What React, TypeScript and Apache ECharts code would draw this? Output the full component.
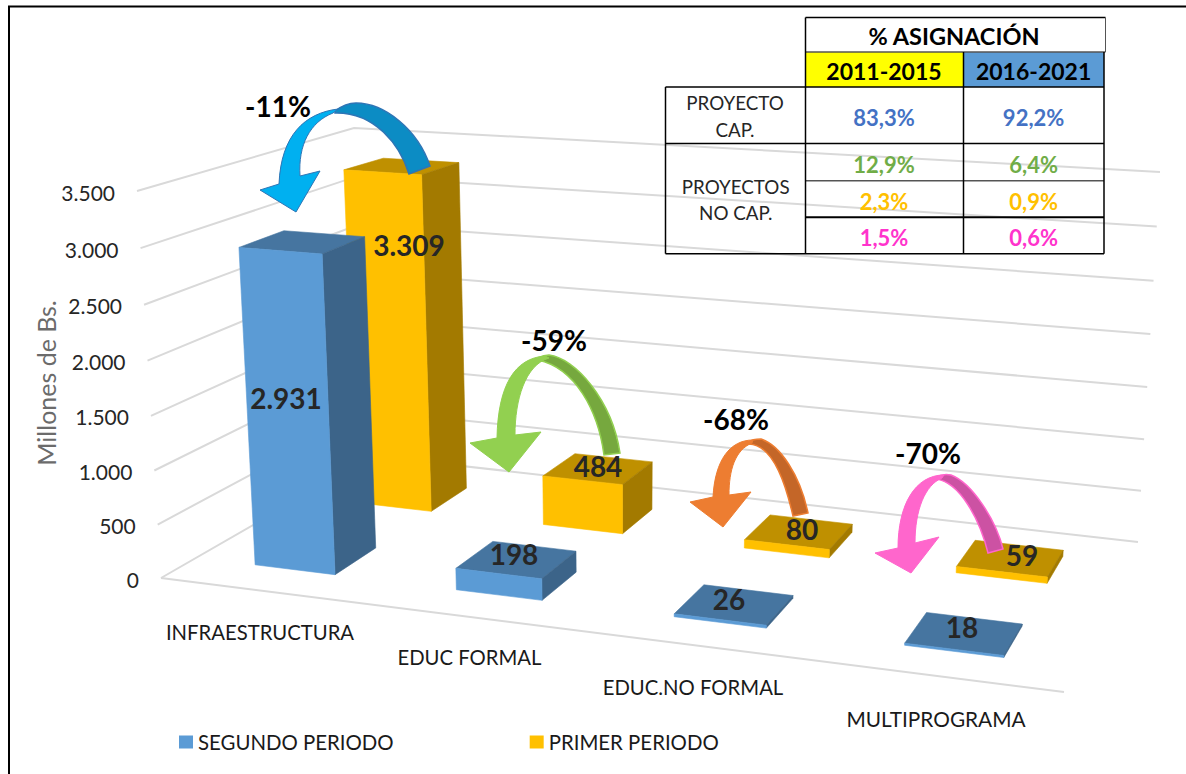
import React, { useEffect, useRef } from "react";
import * as echarts from "echarts";

// ---- data ----
const CATEGORIES = ["INFRAESTRUCTURA", "EDUC FORMAL", "EDUC.NO FORMAL", "MULTIPROGRAMA"];
const PRIMER_PERIODO = [3309, 484, 80, 59];
const SEGUNDO_PERIODO = [2931, 198, 26, 18];
const TICKS = [0, 500, 1000, 1500, 2000, 2500, 3000, 3500];
const CHANGES = ["-11%", "-59%", "-68%", "-70%"];
const TABLE_TITLE = "% ASIGNACIÓN";
const TABLE_PERIODS = ["2011-2015", "2016-2021"];
const TABLE_2011 = ["83,3%", "12,9%", "2,3%", "1,5%"];
const TABLE_2016 = ["92,2%", "6,4%", "0,9%", "0,6%"];

// ---- layout ----
const FONT = "Lato";
const GRID = { left: 100, top: 100, width: 1000, height: 400 };
const MAX = 3500;
const UP = { FL: [-24, -387], FR: [17, -429], BR: [22, -370], BL: [-19, -328] };
const H = { g: -0.07887, h: 0.18802, a: 819.1, b: 282.1, c: 161, d: 59.4, e: -36.3, f: 578 };
const BAR_NUDGE = [-0.005, -0.013, -0.011, -0.005];

function project(u: number, v: number, t: number, lean = 0): number[] {
  const w = H.g * u + H.h * v + 1;
  const x = (H.a * u + H.b * v + H.c) / w;
  const y = (H.d * u + H.e * v + H.f) / w;
  const warped = t / (1 + 0.04 * (1 - t));
  const lerp = (i: number) =>
    (1 - u) * (1 - v) * UP.FL[i] + u * (1 - v) * UP.FR[i] + u * v * UP.BR[i] + (1 - u) * v * UP.BL[i];
  return [x + warped * (lerp(0) + lean * v), y + warped * lerp(1)];
}

function heightOf(api: any, value: number): number {
  const y0 = api.coord([0, 0])[1];
  const yMax = api.coord([0, MAX])[1];
  return (y0 - api.coord([0, value])[1]) / (y0 - yMax);
}

function barRenderer(v0: number, v1: number, front: string, top: string, side: string) {
  return (_: any, api: any) => {
    const cat = api.value(0);
    const t = heightOf(api, api.value(1));
    const uc = (api.coord([cat, 0])[0] - GRID.left) / GRID.width + BAR_NUDGE[cat];
    const half = (api.size([1, 0])[0] / GRID.width) * (0.19 + 0.026 * uc);
    const u0 = uc - half;
    const u1 = uc + half;
    const L = 6;
    const poly = (pts: number[][], fill: string) => ({
      type: "polygon",
      shape: { points: pts },
      style: { fill, stroke: fill, lineWidth: 0.6 },
    });
    return {
      type: "group",
      children: [
        poly([project(u0, v0, t, L), project(u1, v0, t, L), project(u1, v1, t, L), project(u0, v1, t, L)], top),
        poly([project(u1, v0, 0), project(u1, v1, 0), project(u1, v1, t, L), project(u1, v0, t, L)], side),
        poly([project(u0, v0, 0), project(u1, v0, 0), project(u1, v0, t, L), project(u0, v0, t, L)], front),
      ],
    };
  };
}

function wallRenderer(_: any, api: any) {
  const value = api.value(1);
  const t = heightOf(api, value);
  const front = project(0, 0, t);
  const lineStyle = { fill: "none", stroke: "#D9D9D9", lineWidth: 2 };
  const children: any[] = [
    { type: "polyline", shape: { points: [front, project(0, 1, t), project(1, 1, t)] }, style: lineStyle },
    {
      type: "text",
      x: front[0] - 22,
      y: front[1] + 1,
      style: {
        text: String(value).replace(/\B(?=(\d{3})+$)/g, "."),
        fontFamily: FONT,
        fontSize: 21,
        fill: "#262626",
        align: "right",
        verticalAlign: "middle",
      },
    },
  ];
  if (value === 0) {
    children.push({
      type: "polyline",
      shape: { points: [front, project(1, 0, 0)] },
      style: lineStyle,
    });
  }
  return { type: "group", children };
}

// ---- curved arrows (annotation shapes) ----
const ARROW_PATHS: Record<string, string> = {
  a1Back: "M335 111 C343 105 350 103 356 103 C385 103 418 130 430 166 L409 174 C400 145 375 112 335 113 Z",
  a1Front: "M338 109 C305 113 281 135 279 184 L260 190 L296 212 L320 171 L300 176 C298 145 310 122 333 113 Z",
  a2Back: "M538 358 C542 356 545 355 549 355 C575 358 612 400 620 453 L604 455 C598 410 575 368 538 360 Z",
  a2Front: "M545 356 C515 358 498 385 497 438 L470 443 L509 472 L541 432 L515 435 C515 400 525 365 549 358 Z",
  a3Back: "M749 442 C752 439 757 439 761 439 C780 445 800 475 808 513 L793 516 C787 490 775 445 749 444 Z",
  a3Front: "M753 440 C730 440 715 460 713 497 L690 502 L723 527 L751 492 L729 495 C729 470 735 450 752 443 Z",
  a4Back: "M936 477 C940 475 946 474 951 475 C972 483 996 520 1003 549 L988 553 C980 520 960 482 936 479 Z",
  a4Front: "M944 475 C915 475 898 505 898 548 L875 553 L911 573 L939 537 L915 543 C915 510 925 485 942 478 Z",
};
Object.keys(ARROW_PATHS).forEach((k) => {
  echarts.graphic.registerShape(k, echarts.graphic.extendPath(ARROW_PATHS[k], {}));
});

const ARROW_STYLES = [
  { id: "a1", front: "#00B0F0", back: "#0C8CC4", stroke: "#2E75B6" },
  { id: "a2", front: "#92D050", back: "#76A83E", stroke: "#92D050" },
  { id: "a3", front: "#ED7D31", back: "#C46628", stroke: "#ED7D31" },
  { id: "a4", front: "#FF66CC", back: "#CC52A3", stroke: "#FF66CC" },
];
const CHANGE_POS = [[278, 106], [554, 340], [736, 419], [928, 453]];
const PRIMER_LABEL_POS = [[409, 245], [598, 466], [802, 529], [1022, 555]];
const SEGUNDO_LABEL_POS = [[286, 398], [514, 554], [729, 599], [962, 627]];
const CATEGORY_POS = [[260, 632], [469.5, 657], [693, 687], [936, 718]];

function text(x: number, y: number, s: string, size: number, fill: string, bold = false, align = "center") {
  return {
    type: "text",
    x,
    y,
    z: 30,
    style: {
      text: s,
      fontFamily: FONT,
      fontSize: size,
      fontWeight: bold ? 700 : 400,
      fill,
      align,
      verticalAlign: "middle",
    },
  };
}

function hline(x1: number, y1: number, x2: number, y2: number, width = 1.5, stroke = "#000000") {
  return { type: "line", z: 25, shape: { x1, y1, x2, y2 }, style: { stroke, lineWidth: width } };
}

function fmt(v: number) {
  return String(v).replace(/\B(?=(\d{3})+$)/g, ".");
}

function buildGraphics() {
  const els: any[] = [];
  // frame
  els.push(hline(8, 6.5, 1186, 6.5, 2));
  els.push(hline(9, 6, 9, 774, 2));
  // axis title
  els.push({ ...text(46, 383, "Millones de Bs.", 25, "#6B6B6B"), rotation: Math.PI / 2 });
  // category labels
  CATEGORIES.forEach((c, i) => els.push(text(CATEGORY_POS[i][0], CATEGORY_POS[i][1], c, i === 3 ? 20.8 : 20.3, "#1a1a1a")));
  // value labels
  PRIMER_PERIODO.forEach((v, i) =>
    els.push(text(PRIMER_LABEL_POS[i][0], PRIMER_LABEL_POS[i][1], fmt(v), 28, "#262626", true))
  );
  SEGUNDO_PERIODO.forEach((v, i) =>
    els.push(text(SEGUNDO_LABEL_POS[i][0], SEGUNDO_LABEL_POS[i][1], fmt(v), 28, "#262626", true))
  );
  // arrows
  ARROW_STYLES.forEach((a, i) => {
    els.push({ type: a.id + "Back", z: 20, style: { fill: a.back, stroke: a.stroke, lineWidth: 1.5 } });
    els.push({ type: a.id + "Front", z: 21, style: { fill: a.front, stroke: a.id === "a1" ? a.stroke : a.front, lineWidth: 1 } });
    els.push(text(CHANGE_POS[i][0], CHANGE_POS[i][1], CHANGES[i], 28, "#000000", true));
  });
  // table
  const X0 = 665.5, X1 = 805.5, X2 = 963.5, X3 = 1104, X3T = 1105.5;
  const Y = [17.5, 52, 87, 143.5, 180.7, 217.3, 253.7];
  els.push({ type: "rect", z: 22, shape: { x: X1, y: Y[1], width: X2 - X1, height: Y[2] - Y[1] }, style: { fill: "#FFFF00" } });
  els.push({ type: "rect", z: 22, shape: { x: X2, y: Y[1], width: X3 - X2, height: Y[2] - Y[1] }, style: { fill: "#5B9BD5" } });
  els.push(hline(X1, Y[0], X3T, Y[0]));
  els.push(hline(X1, Y[1], X3T, Y[1], 1.5, "#555555"));
  els.push(hline(X0, Y[2], X3, Y[2]));
  els.push(hline(X0, Y[3], X3, Y[3]));
  els.push(hline(X1, Y[4], X3, Y[4], 1.5, "#555555"));
  els.push(hline(X1, Y[5], X3, Y[5], 2));
  els.push(hline(X0, Y[6], X3, Y[6]));
  els.push(hline(X0, Y[2], X0, Y[6]));
  els.push(hline(X1, Y[0], X1, Y[6]));
  els.push(hline(X2, Y[1], X2, Y[6]));
  els.push(hline(X3, Y[1], X3, Y[6]));
  els.push(hline(X3T, Y[0], X3T, Y[1], 1, "#555555"));
  els.push(text(954, 36, TABLE_TITLE, 23.5, "#000000", true));
  els.push(text(884, 71, TABLE_PERIODS[0], 23, "#000000", true));
  els.push(text(1033.6, 71, TABLE_PERIODS[1], 23, "#000000", true));
  els.push(text(735, 102, "PROYECTO", 18.8, "#262626"));
  els.push(text(735, 129, "CAP.", 18.8, "#262626"));
  els.push(text(735.7, 186, "PROYECTOS", 18.8, "#262626"));
  els.push(text(735.7, 212, "NO CAP.", 18.8, "#262626"));
  const rowY = [117, 164, 201, 237];
  const rowColors = ["#4472C4", "#70AD47", "#FFC000", "#FF33CC"];
  rowY.forEach((y, i) => {
    els.push(text(884, y, TABLE_2011[i], 22, rowColors[i], true));
    els.push(text(1033.6, y, TABLE_2016[i], 22, rowColors[i], true));
  });
  return els;
}

export default function App() {
  const ref = useRef<HTMLDivElement>(null);
  useEffect(() => {
    const chart = echarts.init(ref.current!, undefined, { renderer: "svg" });
    chart.setOption({
      animation: false,
      backgroundColor: "#FFFFFF",
      grid: GRID,
      xAxis: { type: "category", data: CATEGORIES, show: false },
      yAxis: { type: "value", min: 0, max: MAX, interval: 500, show: false },
      legend: {
        left: 174,
        top: 727,
        itemWidth: 14,
        itemHeight: 13,
        itemGap: 136,
        icon: "rect",
        selectedMode: false,
        data: ["SEGUNDO PERIODO", "PRIMER PERIODO"],
        textStyle: { fontFamily: FONT, fontSize: 20.4, color: "#1a1a1a" },
      },
      series: [
        {
          type: "custom",
          name: "walls",
          z: 1,
          silent: true,
          encode: { x: 0, y: 1 },
          data: TICKS.map((t) => [0, t]),
          renderItem: wallRenderer,
        },
        {
          type: "custom",
          name: "PRIMER PERIODO",
          z: 2,
          silent: true,
          encode: { x: 0, y: 1 },
          itemStyle: { color: "#FFC000" },
          data: PRIMER_PERIODO.map((v, i) => [i, v]),
          renderItem: barRenderer(0.63, 0.83, "#FFC000", "#BF9000", "#A37A00"),
        },
        {
          type: "custom",
          name: "SEGUNDO PERIODO",
          z: 3,
          silent: true,
          encode: { x: 0, y: 1 },
          itemStyle: { color: "#5B9BD5" },
          data: SEGUNDO_PERIODO.map((v, i) => [i, v]),
          renderItem: barRenderer(0.145, 0.34, "#5B9BD5", "#4675A0", "#3C6489"),
        },
      ],
      graphic: { elements: buildGraphics() },
    });
    return () => chart.dispose();
  }, []);
  return <div ref={ref} style={{ position: "fixed", left: 0, top: 0, width: 1186, height: 774 }} />;
}
